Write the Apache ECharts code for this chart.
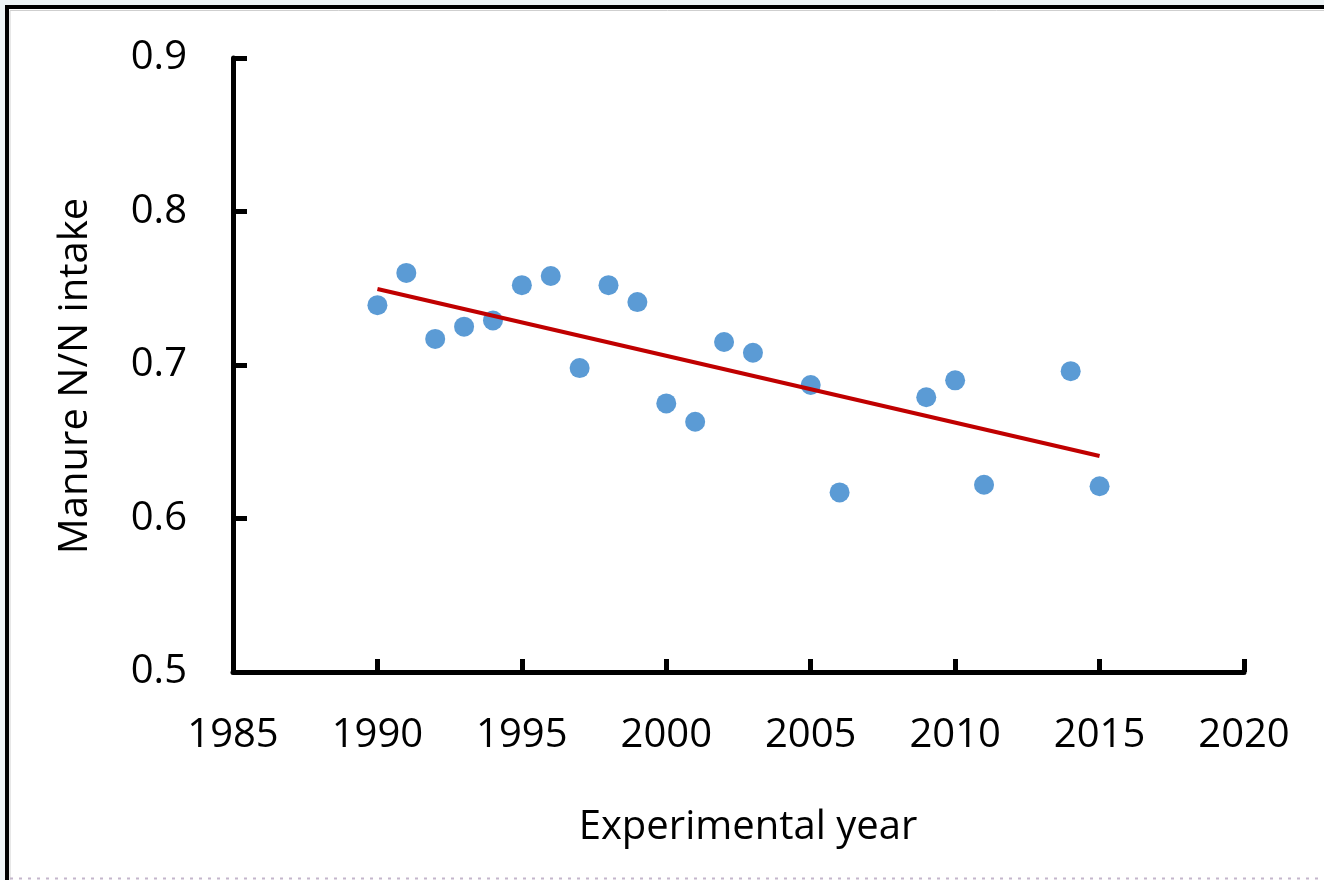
<!DOCTYPE html>
<html>
<head>
<meta charset="utf-8">
<script src="https://cdn.jsdelivr.net/npm/echarts@6/dist/echarts.min.js"></script>
<style>
html,body{margin:0;padding:0;background:#fff;}
#chart{width:1324px;height:880px;}
</style>
</head>
<body>
<div id="chart"></div>
<script>
// Data
const years = [1990, 1991, 1992, 1993, 1994, 1995, 1996, 1997, 1998, 1999, 2000, 2001, 2002, 2003, 2005, 2006, 2009, 2010, 2011, 2014, 2015];
const ratios = [0.739, 0.760, 0.717, 0.725, 0.729, 0.752, 0.758, 0.698, 0.752, 0.741, 0.675, 0.663, 0.715, 0.708, 0.687, 0.617, 0.679, 0.690, 0.622, 0.696, 0.621];
const trendYears = [1990, 2015];
const trendValues = [0.7495, 0.6407];
const xTitle = 'Experimental year';
const yTitle = 'Manure N/N intake';

const points = years.map((y, i) => [y, ratios[i]]);
const trend = trendYears.map((y, i) => [y, trendValues[i]]);

const FONT = 'Open Sans';
const chart = echarts.init(document.getElementById('chart'));
chart.setOption({
  animation: false,
  backgroundColor: '#ffffff',
  graphic: {
    elements: [
      { type: 'rect', z: -10, shape: { x: 0, y: 0, width: 1324, height: 880 }, style: { fill: '#eef4f6' }, silent: true },
      { type: 'rect', z: -9, shape: { x: 7, y: 7, width: 1500, height: 1200 }, style: { fill: '#ffffff', stroke: '#000000', lineWidth: 4 }, silent: true },
      { type: 'rect', z: -8, shape: { x: 10, y: 10.5, width: 1500, height: 1200 }, style: { fill: 'none', stroke: '#cfcfcf', lineWidth: 1 }, silent: true },
      { type: 'line', z: -7, shape: { x1: 10, y1: 878.5, x2: 1324, y2: 878.5 }, style: { stroke: '#c4b6cc', lineWidth: 2, lineDash: [3, 6] }, silent: true },
      { type: 'text', x: 748, y: 828, style: { text: xTitle, font: '40px "Open Sans"', fill: '#000', align: 'center', verticalAlign: 'middle' }, silent: true },
      { type: 'text', x: 76, y: 376, rotation: Math.PI / 2, style: { text: yTitle, font: '40px "Open Sans"', fill: '#000', align: 'center', verticalAlign: 'middle' }, silent: true }
    ]
  },
  grid: { left: 233, top: 58, width: 1011, height: 614, containLabel: false },
  xAxis: {
    type: 'value', min: 1985, max: 2020, interval: 5,
    axisLine: { show: true, lineStyle: { color: '#000', width: 5 } },
    axisTick: { show: true, inside: true, length: 13, lineStyle: { color: '#000', width: 5 } },
    axisLabel: { show: true, showMinLabel: true, showMaxLabel: true, margin: 44, color: '#000', fontSize: 40, fontFamily: FONT, formatter: v => String(v) },
    splitLine: { show: false }
  },
  yAxis: {
    type: 'value', min: 0.5, max: 0.9, interval: 0.1,
    axisLine: { show: true, lineStyle: { color: '#000', width: 5 } },
    axisTick: { show: true, inside: true, length: 14, lineStyle: { color: '#000', width: 5 } },
    axisLabel: { show: true, showMinLabel: true, showMaxLabel: true, margin: 46, color: '#000', fontSize: 40, fontFamily: FONT, formatter: v => v.toFixed(1) },
    splitLine: { show: false }
  },
  series: [
    { type: 'scatter', data: points, symbol: 'circle', symbolSize: 20, itemStyle: { color: '#5B9BD5', opacity: 1 }, z: 2 },
    { type: 'line', data: trend, showSymbol: false, symbol: 'none', lineStyle: { color: '#C00000', width: 4 }, z: 3 }
  ]
});
</script>
</body>
</html>
